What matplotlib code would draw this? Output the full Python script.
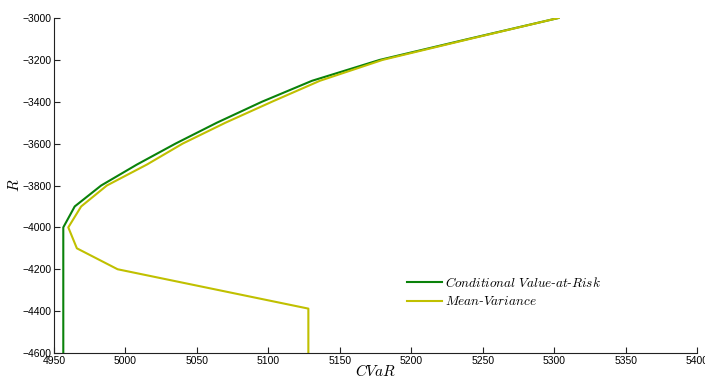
import matplotlib
matplotlib.use("Agg")
import matplotlib.pyplot as plt

plt.rcParams["mathtext.fontset"] = "cm"
plt.rcParams["font.family"] = ["Liberation Sans", "DejaVu Sans"]

# frontier points (R levels)
r_cvar = [-3000, -3100, -3200, -3300, -3400, -3500, -3600, -3700, -3800, -3900, -4000, -4600]
x_cvar = [5303, 5240, 5178, 5130.5, 5095.5, 5064, 5035, 5008, 4983, 4964.5, 4956.5, 4956.5]

r_mv = [-3000, -3100, -3200, -3300, -3400, -3500, -3600, -3700, -3800, -3900, -4000, -4100, -4200, -4388, -4600]
x_mv = [5303, 5241, 5180, 5136, 5102.5, 5070, 5040, 5015, 4987, 4969, 4960, 4966, 4994.5, 5128, 5128]

labels = [r"$Conditional\ Value$-$at$-$Risk$", r"$Mean$-$Variance$"]
colors = ["#0a820a", "#c0c000"]

fig = plt.figure(figsize=(7.05, 3.79), dpi=100)
ax = fig.add_axes([0.0766, 0.0686, 0.9121, 0.8839])

ax.plot(x_cvar, r_cvar, color=colors[0], lw=1.5, label=labels[0])
ax.plot(x_mv, r_mv, color=colors[1], lw=1.5, label=labels[1])

ax.set_xlim(4950, 5400)
ax.set_ylim(-4600, -3000)
ax.set_xticks(range(4950, 5401, 50))
ax.set_yticks(range(-4600, -2999, 200))
ax.tick_params(direction="in", length=4, labelsize=7.5, pad=2, color="#222222")
for s in ["top", "right"]:
    ax.spines[s].set_visible(False)
for s in ["left", "bottom"]:
    ax.spines[s].set_color("#222222")

ax.set_xlabel(r"$CVaR$", fontsize=11, labelpad=-2)
ax.set_ylabel(r"$R$", fontsize=11, labelpad=0)

leg = ax.legend(loc="upper left", bbox_to_anchor=(0.53, 0.265), frameon=False,
                prop={"family": "DejaVu Serif", "style": "italic", "size": 9.5},
                handlelength=2.7, handletextpad=0.2, labelspacing=0.4)

fig.savefig("out.png", dpi=100)
plt.close(fig)
